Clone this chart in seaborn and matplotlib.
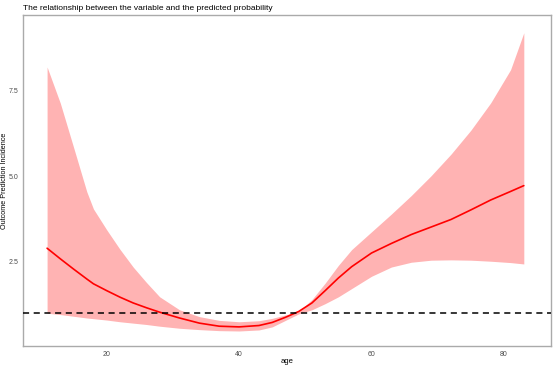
import matplotlib
matplotlib.use("Agg")
import matplotlib.pyplot as plt
import seaborn as sns
import pandas as pd

age = [11, 13, 15, 17, 18, 20, 22, 24, 26, 28, 31, 34, 37, 40, 43, 45, 47, 49,
       51, 53, 55, 57, 60, 63, 66, 69, 72, 75, 78, 81, 83]
pred = [2.90, 2.59, 2.29, 2.00, 1.86, 1.66, 1.47, 1.30, 1.16, 1.03, 0.86, 0.71,
        0.62, 0.60, 0.64, 0.73, 0.88, 1.05, 1.30, 1.66, 2.03, 2.36, 2.76, 3.04,
        3.30, 3.52, 3.74, 4.02, 4.31, 4.56, 4.73]
upper = [8.20, 7.14, 5.85, 4.55, 4.05, 3.44, 2.87, 2.35, 1.90, 1.48, 1.10, 0.90,
         0.79, 0.75, 0.78, 0.85, 0.95, 1.05, 1.40, 1.88, 2.40, 2.86, 3.38, 3.90,
         4.44, 5.02, 5.65, 6.35, 7.15, 8.12, 9.20]
lower = [1.00, 0.96, 0.91, 0.86, 0.84, 0.80, 0.75, 0.71, 0.67, 0.62, 0.56, 0.52,
         0.49, 0.48, 0.51, 0.60, 0.79, 0.98, 1.10, 1.28, 1.48, 1.72, 2.08, 2.35,
         2.49, 2.55, 2.56, 2.55, 2.52, 2.48, 2.44]
ref_value = 1.0
x_ticks = [20, 40, 60, 80]
y_ticks = [2.5, 5.0, 7.5]
y_tick_labels = ["2.5", "5.0", "7.5"]

df = pd.DataFrame({"age": age, "pred": pred, "lower": lower, "upper": upper})

sns.set_style("white")
plt.rcParams['font.family'] = ['Liberation Sans', 'DejaVu Sans']

fig = plt.figure(figsize=(5.54, 3.67), dpi=100)
ax = fig.add_axes([0.0415, 0.0572, 0.953, 0.902])

ax.fill_between(df["age"], df["lower"], df["upper"], color="#FFB3B3", linewidth=0, zorder=1)
sns.lineplot(data=df, x="age", y="pred", color="red", linewidth=1.2, ax=ax, zorder=3)
ax.axhline(ref_value, color="black", linestyle=(0, (4, 3)), linewidth=1.1, zorder=4)

ax.set_xlim(7.36, 87.1)
ax.set_ylim(0.041, 9.72)
ax.set_xticks(x_ticks)
ax.set_yticks(y_ticks)
ax.set_xticklabels([str(t) for t in x_ticks])
ax.set_yticklabels(y_tick_labels)
ax.tick_params(axis="both", labelsize=5, labelcolor="#4d4d4d", color="#888888",
               length=2, width=0.6, direction="out", pad=1.5)
for s in ax.spines.values():
    s.set_color("#aaaaaa")
    s.set_linewidth(1.0)

ax.set_xlabel("age", fontsize=5.5, color="black")
ax.set_ylabel("Outcome Prediction Incidence", fontsize=5.2, color="black")
ax.xaxis.set_label_coords(0.5, -0.036)
ax.yaxis.set_label_coords(-0.0285, 0.5)
fig.text(0.0415, 0.978, "The relationship between the variable and the predicted probability",
         fontsize=6, ha="left", va="center", color="black")

fig.savefig("out.png", dpi=100)
